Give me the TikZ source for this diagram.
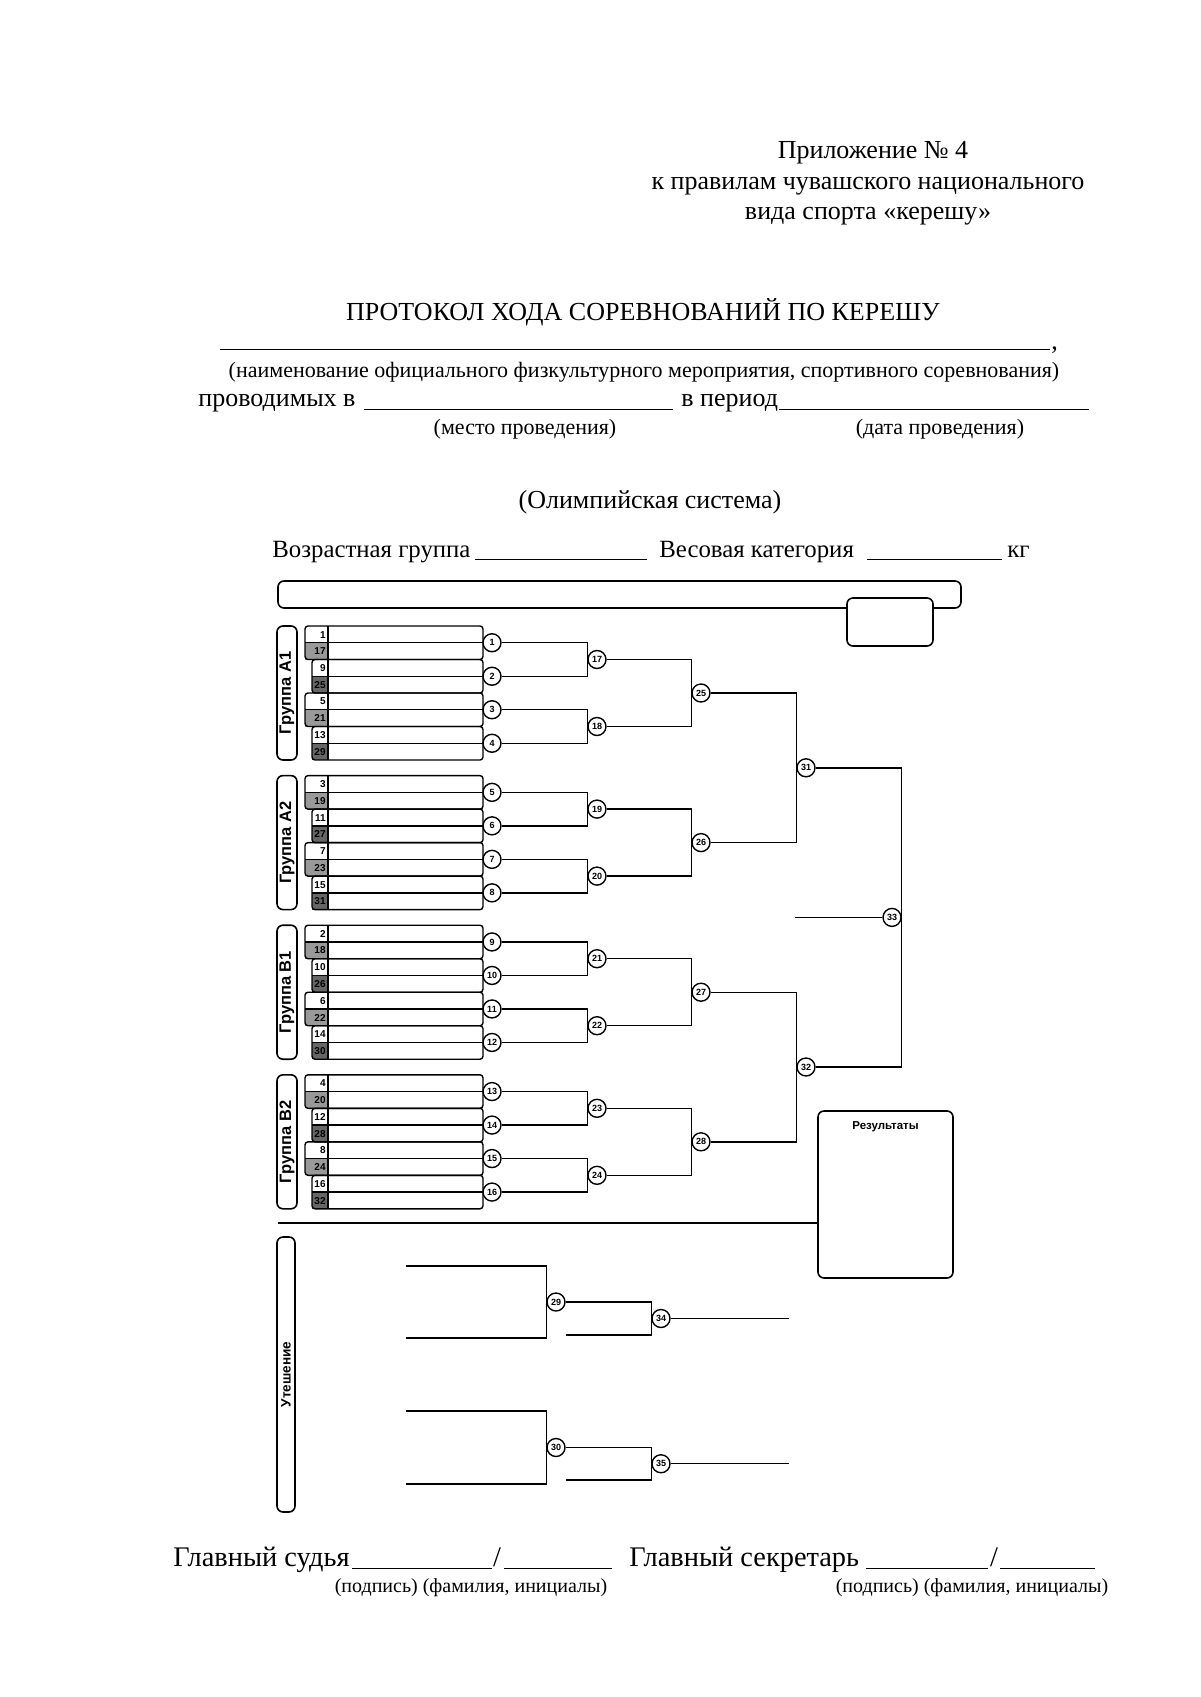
\documentclass[tikz,border=0pt]{standalone}
\usepackage{fontspec}
\setmainfont{Liberation Serif}
\newfontfamily\sansf{Liberation Sans}
\usetikzlibrary{calc}
\tikzset{
 ln/.style={line width=0.7pt},
 circ/.style={draw, circle, line width=0.7pt, minimum size=9pt, inner sep=0pt, fill=white, font=\sansf\bfseries\fontsize{4.5}{5}\selectfont},
 num/.style={inner sep=0.5pt, font=\sansf\bfseries\fontsize{5}{6}\selectfont},
 grp/.style={draw, rounded corners=3pt, line width=0.8pt, minimum height=10pt, inner sep=0pt, font=\sansf\bfseries\fontsize{8.25}{9}\selectfont},
 txt/.style={inner sep=0pt, font=\fontsize{13}{15}\selectfont},
 mid/.style={inner sep=0pt, font=\fontsize{12.4}{14}\selectfont},
 big/.style={inner sep=0pt, font=\fontsize{14.2}{16}\selectfont},
 small/.style={inner sep=0pt, font=\fontsize{11}{13}\selectfont},
 foot/.style={inner sep=0pt, font=\fontsize{10}{12}\selectfont},
 uline/.style={line width=0.5pt},
 frame/.style={line width=0.8pt, rounded corners=3pt},
}
\newcommand\pairbox[6]{%
  \fill[#5] (#2,#1+16.75) rectangle (328,#1+33.5);
  \draw[line width=0.7pt, rounded corners=1.5pt] (#2,#1) rectangle (483,#1+33.5);
  \draw[line width=0.7pt] (#2,#1+16.75) -- (483,#1+16.75) (328,#1) -- (328,#1+33.5);
  \node[num, anchor=east] (n#3) at (327,#1+8.6) {#3};
  \node[num, anchor=east] (n#4) at (327,#1+25.3) {#4};
  \node[circ] (m#6) at (492,#1+16.75) {#6};
}
\begin{document}
\begin{tikzpicture}[x=0.5pt,y=-0.5pt]
\fill[white] (0,0) rectangle (1200,1697);
\useasboundingbox (0,0) rectangle (1200,1697);

% ---- header texts
\node[txt, anchor=base] (t1) at (873,158) {Приложение №~4};
\node[txt, anchor=base] (t2) at (868,189) {к правилам чувашского национального};
\node[txt, anchor=base] (t3) at (868,219) {вида спорта «керешу»};
\node[txt, anchor=base] (t4) at (643,320) {ПРОТОКОЛ ХОДА СОРЕВНОВАНИЙ ПО КЕРЕШУ};
\draw[uline] (220,349) -- (1050,349);
\node[txt, anchor=base west] (tc) at (1051,349) {,};
\node[small, anchor=base] (t5) at (644,377) {(наименование официального физкультурного мероприятия, спортивного соревнования)};
\node[txt, anchor=base west] (t6) at (198,406) {проводимых в};
\draw[uline] (364,409) -- (673,409);
\node[txt, anchor=base west] (t7) at (681,406) {в период};
\draw[uline] (779,409) -- (1089,409);
\node[small, anchor=base] (t8) at (525,434) {(место проведения)};
\node[small, anchor=base] (t9) at (940,434) {(дата проведения)};
\node[txt, anchor=base] (t10) at (650,508) {(Олимпийская система)};
\node[mid, anchor=base west] (t11) at (272,557) {Возрастная группа};
\draw[uline] (475,559) -- (647,559);
\node[mid, anchor=base west] (t12) at (659,557) {Весовая категория};
\draw[uline] (867,559) -- (1002,559);
\node[mid, anchor=base west] (t13) at (1007,557) {кг};

% ---- header frame
\draw[frame] (278,581) rectangle (961,608);
\filldraw[frame, fill=white] (847,598) rectangle (933,646);

% ---- group labels
\node[grp, rotate=90, minimum width=67pt] (g1) at (287,693) {Группа A1};
\node[grp, rotate=90, minimum width=67pt] (g2) at (287,842.6) {Группа A2};
\node[grp, rotate=90, minimum width=67pt] (g3) at (287,992.2) {Группа B1};
\node[grp, rotate=90, minimum width=67pt] (g4) at (287,1141.8) {Группа B2};

% ---- entries: y0, left x, top, bottom, fill, circle
\pairbox{626}{305}{1}{17}{black!40}{1}
\pairbox{659.5}{312}{9}{25}{black!60}{2}
\pairbox{693}{305}{5}{21}{black!40}{3}
\pairbox{726.5}{312}{13}{29}{black!60}{4}
\pairbox{775.6}{305}{3}{19}{black!40}{5}
\pairbox{809.1}{312}{11}{27}{black!60}{6}
\pairbox{842.6}{305}{7}{23}{black!40}{7}
\pairbox{876.1}{312}{15}{31}{black!60}{8}
\pairbox{925.2}{305}{2}{18}{black!40}{9}
\pairbox{958.7}{312}{10}{26}{black!60}{10}
\pairbox{992.2}{305}{6}{22}{black!40}{11}
\pairbox{1025.7}{312}{14}{30}{black!60}{12}
\pairbox{1074.8}{305}{4}{20}{black!40}{13}
\pairbox{1108.3}{312}{12}{28}{black!60}{14}
\pairbox{1141.8}{305}{8}{24}{black!40}{15}
\pairbox{1175.3}{312}{16}{32}{black!60}{16}

% ---- round 2
\node[circ] (m17) at ($(m1)!0.5!(m2)+(105,0)$) {17};
\node[circ] (m18) at ($(m3)!0.5!(m4)+(105,0)$) {18};
\node[circ] (m19) at ($(m5)!0.5!(m6)+(105,0)$) {19};
\node[circ] (m20) at ($(m7)!0.5!(m8)+(105,0)$) {20};
\node[circ] (m21) at ($(m9)!0.5!(m10)+(105,0)$) {21};
\node[circ] (m22) at ($(m11)!0.5!(m12)+(105,0)$) {22};
\node[circ] (m23) at ($(m13)!0.5!(m14)+(105,0)$) {23};
\node[circ] (m24) at ($(m15)!0.5!(m16)+(105,0)$) {24};
\foreach \a/\b/\c in {1/2/17,3/4/18,5/6/19,7/8/20,9/10/21,11/12/22,13/14/23,15/16/24}
  \draw[ln] (m\a.east) -| (m\c.west) |- (m\b.east);
% ---- round 3
\node[circ] (m25) at ($(m17)!0.5!(m18)+(104,0)$) {25};
\node[circ] (m26) at ($(m19)!0.5!(m20)+(104,0)$) {26};
\node[circ] (m27) at ($(m21)!0.5!(m22)+(104,0)$) {27};
\node[circ] (m28) at ($(m23)!0.5!(m24)+(104,0)$) {28};
\foreach \a/\b/\c in {17/18/25,19/20/26,21/22/27,23/24/28}
  \draw[ln] (m\a.east) -| (m\c.west) |- (m\b.east);
% ---- round 4
\node[circ] (m31) at ($(m25)!0.5!(m26)+(105,0)$) {31};
\node[circ] (m32) at ($(m27)!0.5!(m28)+(105,0)$) {32};
\foreach \a/\b/\c in {25/26/31,27/28/32}
  \draw[ln] (m\a.east) -| (m\c.west) |- (m\b.east);
% ---- final
\node[circ] (m33) at ($(m31)!0.5!(m32)+(86,0)$) {33};
\draw[ln] (m31.east) -| (m33.east) |- (m32.east);
\coordinate (f33) at ($(m33)+(-97,0)$);
\draw[ln] (f33) -- (m33.west);

% ---- results
\draw[frame] (818,1111) rectangle (953,1278);
\node[inner sep=0pt, font=\sansf\bfseries\fontsize{5.75}{7}\selectfont] (res) at (885.5,1127) {Результаты};
\coordinate (s1) at (278,1223);
\coordinate (s2) at (818,1223);
\draw[ln] (s1) -- (s2);

% ---- consolation
\node[grp, rotate=90, minimum width=137.5pt, minimum height=9pt, font=\sansf\bfseries\fontsize{6.8}{8}\selectfont] (g5) at (286,1374.5) {Утешение};
\coordinate (c1) at (406,1266);
\coordinate (c2) at (406,1338);
\node[circ] (m29) at (556,1302) {29};
\draw[ln] (c1) -| (m29.west) |- (c2);
\node[circ] (m34) at (661,1318.5) {34};
\coordinate (c3) at (566,1335);
\draw[ln] (m29.east) -| (m34.west) |- (c3);
\coordinate (c4) at (789,1318.5);
\draw[ln] (m34.east) -- (c4);
\coordinate (c5) at (406,1411);
\coordinate (c6) at (406,1484);
\node[circ] (m30) at (556,1447.5) {30};
\draw[ln] (c5) -| (m30.west) |- (c6);
\node[circ] (m35) at (661,1463.75) {35};
\coordinate (c7) at (566,1480);
\draw[ln] (m30.east) -| (m35.west) |- (c7);
\coordinate (c8) at (789,1463.75);
\draw[ln] (m35.east) -- (c8);

% ---- footer
\node[big, anchor=base west] (t14) at (173,1566) {Главный судья};
\draw[uline] (352,1568) -- (492,1568);
\node[big, anchor=base] (sl1) at (497,1566) {/};
\draw[uline] (504,1568) -- (612,1568);
\node[big, anchor=base west] (t15) at (629,1566) {Главный секретарь};
\draw[uline] (866,1568) -- (988,1568);
\node[big, anchor=base] (sl2) at (994,1566) {/};
\draw[uline] (1000,1568) -- (1095,1568);
\node[foot, anchor=base] (t16) at (471,1592) {(подпись) (фамилия, инициалы)};
\node[foot, anchor=base] (t17) at (972,1592) {(подпись) (фамилия, инициалы)};
\end{tikzpicture}
\end{document}
